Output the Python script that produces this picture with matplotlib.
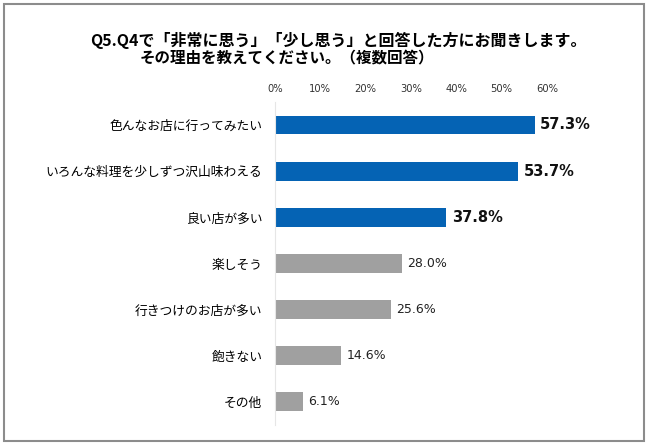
import matplotlib
matplotlib.use("Agg")
import matplotlib.pyplot as plt
from matplotlib.patches import Rectangle

plt.rcParams['font.family'] = ['Noto Sans CJK JP', 'DejaVu Sans']

labels = ['色んなお店に行ってみたい', 'いろんな料理を少しずつ沢山味わえる', '良い店が多い',
          '楽しそう', '行きつけのお店が多い', '飽きない', 'その他']
values = [57.3, 53.7, 37.8, 28.0, 25.6, 14.6, 6.1]
highlight = [True, True, True, False, False, False, False]
ticks = [0, 10, 20, 30, 40, 50, 60]

blue = '#0563B4'
gray = '#A0A0A0'

fig = plt.figure(figsize=(6.5, 4.45), dpi=100)
fig.patches.append(Rectangle((0.006, 0.008), 0.985, 0.982, transform=fig.transFigure,
                             fill=False, edgecolor='#8C8C8C', linewidth=1.5))

fig.text(0.52, 0.91, 'Q5.Q4で「非常に思う」「少し思う」と回答した方にお聞きします。',
         ha='center', va='center', fontsize=11.5, fontweight='bold')
fig.text(0.215, 0.87, 'その理由を教えてください。（複数回答）',
         ha='left', va='center', fontsize=11.2, fontweight='bold')

ax = fig.add_axes([0.423, 0.045, 0.4185, 0.726])
y = list(range(len(labels)))
colors = [blue if h else gray for h in highlight]
ax.barh(y, values, height=0.41, color=colors)
ax.set_ylim(len(labels) - 0.5, -0.5)
ax.set_xlim(0, 60)

for yi, v, h in zip(y, values, highlight):
    if h:
        ax.text(v + 1.2, yi, f'{v:.1f}%', va='center', ha='left', family='DejaVu Sans',
                fontsize=10.5, fontweight='bold', color='#111111')
    else:
        ax.text(v + 1.2, yi, f'{v:.1f}%', va='center', ha='left', family='DejaVu Sans',
                fontsize=9, color='#222222')

ax.set_yticks(y)
ax.set_yticklabels(labels, fontsize=9.2)
ax.set_xticks(ticks)
ax.set_xticklabels([f'{t}%' for t in ticks], fontsize=7.2, color='#333333',
                   family='DejaVu Sans')
ax.xaxis.tick_top()
ax.tick_params(axis='both', length=0)
ax.tick_params(axis='x', pad=6)
ax.tick_params(axis='y', pad=9)

for s in ['top', 'right', 'bottom']:
    ax.spines[s].set_visible(False)
ax.spines['left'].set_color('#E6E6E6')

fig.savefig('out.png', dpi=100)
